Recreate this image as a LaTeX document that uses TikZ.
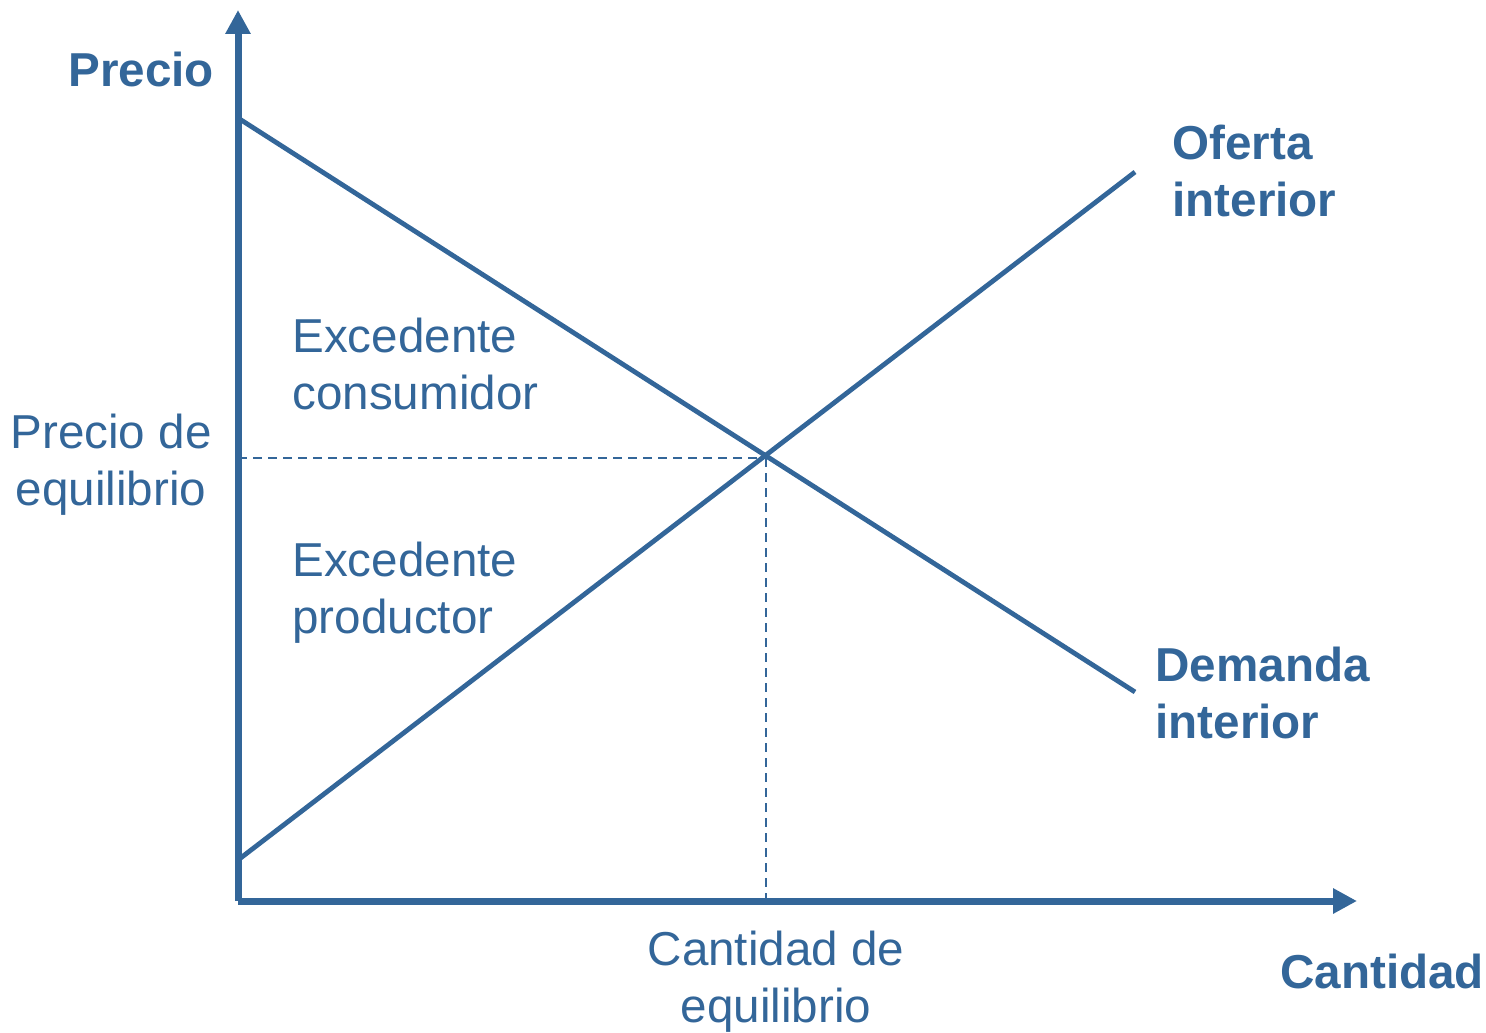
\documentclass[tikz,border=0pt]{standalone}
\usepackage{fontspec}
\setmainfont{Liberation Sans}
\usetikzlibrary{positioning}
\usetikzlibrary{arrows.meta}
\definecolor{mktblue}{HTML}{336699}
\tikzset{
    Axis/.style = {draw=mktblue, line width=3.5pt, -{Triangle[length=12pt,width=12pt]}}
}
\tikzset{
    Curve/.style = {draw=mktblue, line width=2.4pt}
}
\tikzset{
    Guide/.style = {draw=mktblue, line width=1pt, dash pattern=on 4.5pt off 3pt}
}

\begin{document}
\begin{tikzpicture}[
    x=0.5pt, y=-0.5pt,
    text=mktblue,
    font=\fontsize{23.8pt}{28.5pt}\selectfont
]
\tikzset{
    Title/.style = {inner sep=0pt, align=left, font=\fontsize{23.8pt}{28.5pt}\selectfont\bfseries},
    Label/.style = {inner sep=0pt, align=left},
}
\useasboundingbox (0,0) rectangle (1486,1032);

\coordinate (O) at (238,901);
\coordinate (ytop) at (238,10);
\coordinate (xend) at (1357,901);
\coordinate (d0) at (238,118);
\coordinate (d1) at (1135,692);
\coordinate (s0) at (238,860);
\coordinate (s1) at (1135,172);
\coordinate (E) at (766,458);

% single lines sit on their baseline, two-line labels on the last one
\node[Title, anchor=base west] at (68,87) (price) {Precio};
\node[Title, anchor=base west] at (1280,988) (qty) {Cantidad};
\node[Title, anchor=base west] at (1172,217) (supply) {Oferta\\interior};
\node[Title, anchor=base west] at (1155,738) (demand) {Demanda\\interior};
\node[Label, anchor=base, align=center] at (111,505) (peq) {Precio de\\equilibrio};
\node[Label, anchor=base, align=center] at (776,1022) (qeq) {Cantidad de\\equilibrio};
\node[Label, anchor=base west] at (292,409) (cs) {Excedente\\consumidor};
\node[Label, anchor=base west] at (292,633) (ps) {Excedente\\productor};

\path (O |- E) edge [Guide] (E);
\path (E) edge [Guide] (E |- O);
\path (d0) edge [Curve] (d1);
\path (s0) edge [Curve] (s1);
\path (O) edge [Axis] (ytop);
\path (O) edge [Axis] (xend);
\end{tikzpicture}
\end{document}
